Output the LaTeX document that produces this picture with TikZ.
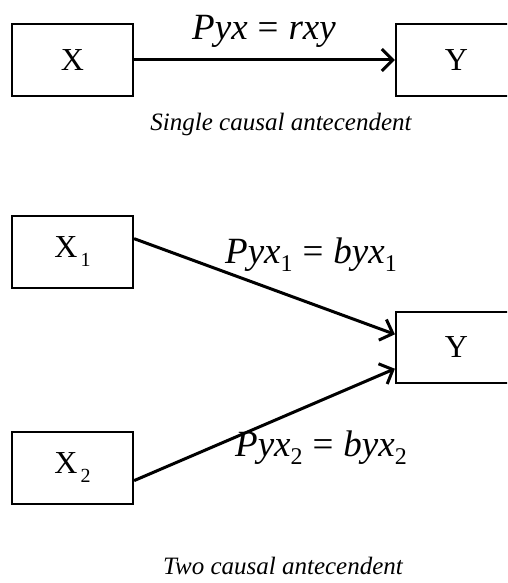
\documentclass[tikz,border=0pt]{standalone}
\usepackage{fontspec}
\setmainfont{Liberation Serif}
\usetikzlibrary{arrows.meta,calc}
\newcommand\sbone[1]{\raisebox{-9pt}{\fontsize{20}{20}\selectfont #1}}
\newcommand\sbeq[1]{\raisebox{-8pt}{\upshape\fontsize{24}{24}\selectfont #1}}
\newcommand\eqsign{\hspace{10pt}{\upshape =}\hspace{10pt}}
\begin{document}
\begin{tikzpicture}[x=1pt,y=-1pt,
  box/.style={draw, line width=2.2pt, minimum width=121pt, minimum height=72pt, inner sep=0pt, font=\fontsize{32}{32}\selectfont},
  eq/.style={anchor=base, font=\fontsize{37}{37}\selectfont\itshape, inner sep=0pt},
  captext/.style={anchor=base, font=\fontsize{25}{25}\selectfont\itshape, inner sep=0pt},
  link/.style={line width=3pt, -{Straight Barb[length=11pt,width=22pt,line width=3pt]}}]
\useasboundingbox (0,0) rectangle (507,583);
\clip (0,0) rectangle (507,583);
\node[box] (X) at (72.5,60) {X};
\node[box] (Y) at (456.5,60) {Y};
\node[box] (X1) at (72.5,252) {X\hspace{3pt}\sbone{1}};
\node[box] (Y2) at (456.5,347.5) [minimum height=71pt] {Y};
\node[box] (X2) at (72.5,468) {X\hspace{3pt}\sbone{2}};
\draw[link] (X.east) -- (Y.west);
\draw[link] ($(X1.north east)!0.32!(X1.south east)$) -- ($(Y2.north west)!0.32!(Y2.south west)$);
\draw[link] ($(X2.north east)!0.67!(X2.south east)$) -- ($(Y2.north west)!0.79!(Y2.south west)$);
\node[eq] (e0) at (264,40) {Pyx\eqsign rxy};
\node[eq] (e1) at (311,263) {Pyx\sbeq{1}\eqsign byx\sbeq{1}};
\node[eq] (e2) at (321,456) {Pyx\sbeq{2}\eqsign byx\sbeq{2}};
\node[captext] (c1) at (281,131) {Single causal antecendent};
\node[captext] (c2) at (283,574) {Two causal antecendent};
\end{tikzpicture}
\end{document}
